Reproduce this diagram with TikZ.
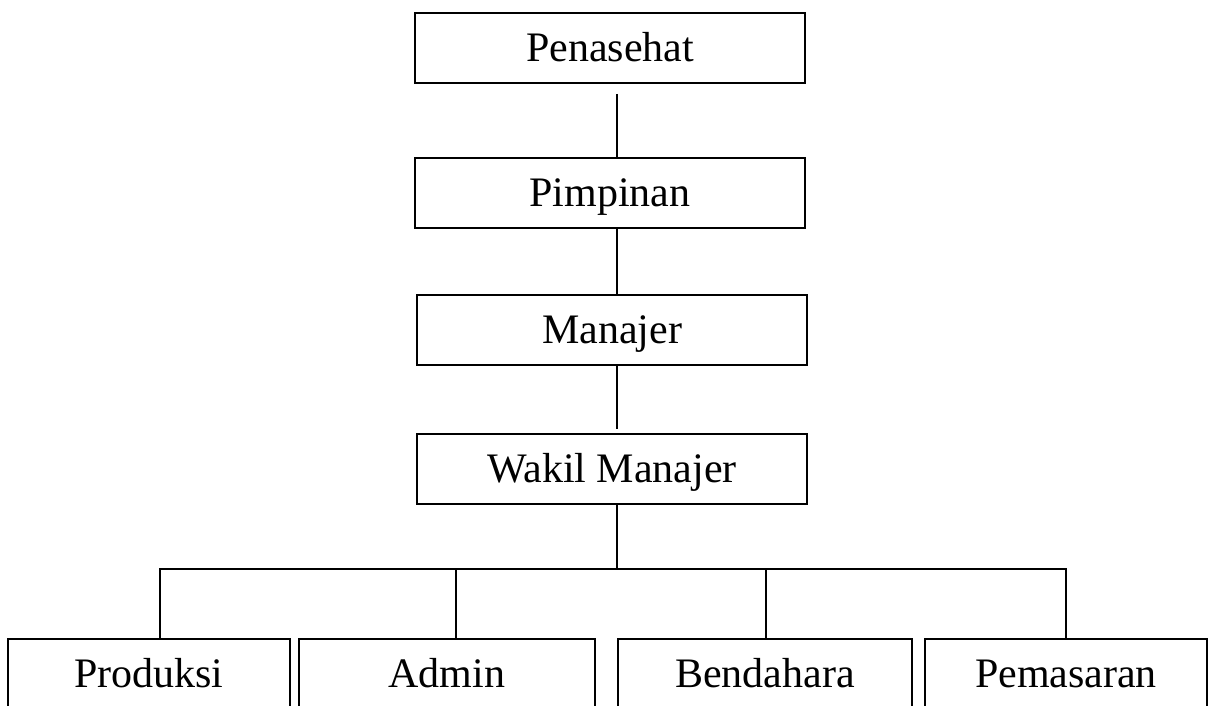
\documentclass[tikz,border=0pt]{standalone}
\usepackage{fontspec}
\setmainfont{Liberation Serif}

\begin{document}
\begin{tikzpicture}[x=1pt,y=-1pt,line width=1.8pt,node distance=140pt,org node/.style={draw,rectangle,inner sep=0pt,minimum height=70pt,text height=27.8pt,text depth=0pt,font=\fontsize{42}{50}\selectfont}]
                    \useasboundingbox (0,0) rectangle (1214,705);
                    \clip (0,0) rectangle (1214,705);

                    \node[org node,minimum width=390pt] (1) at (610,48) {Penasehat};
                    \node[org node,minimum width=390pt] (2) [below of=1,node distance=145pt] {Pimpinan};
                    \node[org node,minimum width=390pt,xshift=2pt] (3) [below of=2,node distance=137pt] {Manajer};
                    \node[org node,minimum width=390pt] (4) [below of=3,node distance=139pt] {Wakil Manajer};

                    \node[org node,minimum width=282pt] (5) at (149,674) {Produksi};
                    \node[org node,minimum width=296pt] (6) at (447,674) {Admin};
                    \node[org node,minimum width=294pt] (7) at (765,674) {Bendahara};
                    \node[org node,minimum width=282pt] (8) at (1066,674) {Pemasaran};

                    % garis cabang
                    \coordinate (trunk) at (617,569);
                    \coordinate (c5) at (160,569);
                    \coordinate (c6) at (456,569);
                    \coordinate (c7) at (766,569);
                    \coordinate (c8) at (1066,569);

                    \draw[shorten <=10pt] (1.south -| trunk) -- (2.north -| trunk);
                    \draw (2.south -| trunk) -- (3.north -| trunk);
                    \draw[shorten >=4pt] (3.south -| trunk) -- (4.north -| trunk);
                    \draw (4.south -| trunk) -- (trunk);
                    \draw (c5 |- 5.north) -- (c5) -- (c8) -- (c8 |- 8.north);
                    \foreach \n in {6,7}
                        \draw (c\n) -- (c\n |- \n.north);
                \end{tikzpicture}
\end{document}
